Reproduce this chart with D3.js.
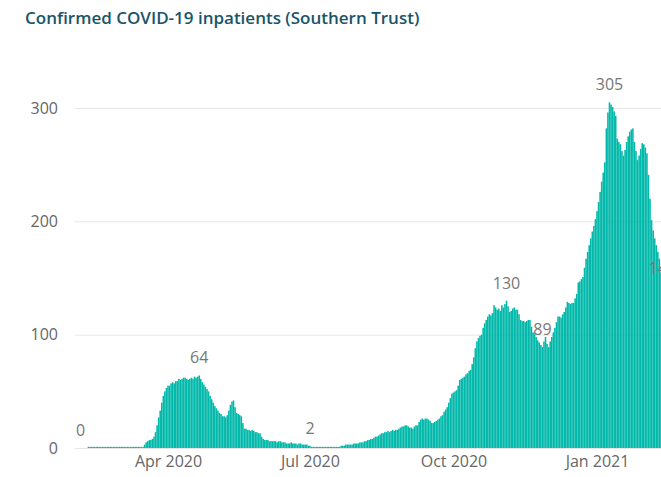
<!DOCTYPE html>
<html>
<head>
<meta charset="utf-8">
<script src="https://cdn.jsdelivr.net/npm/d3@7"></script>
<style>
  body { margin: 0; background: #fff; overflow: hidden; }
  text { font-family: "Open Sans", sans-serif; }
</style>
</head>
<body>
<script>
// daily inpatients, one array per month
let startDay = "2020-02-05";
let feb20 = [0,0,0,0,0,1,1,1,1,1,1,1,1,1,1,1,1,1,1,1,1,1,1,1,1];
let mar20 = [1,1,1,1,1,1,1,1,1,1,1,1,1,1,1,1,3,5,6,7,7,8,10,14,20,27,33,40,46,50,53];
let apr20 = [55,55,57,58,57,59,59,61,60,61,62,62,61,60,61,62,61,63,62,63,64,61,58,56,54,52,50,46,43,40];
let may20 = [37,35,33,31,30,28,28,27,29,33,38,41,42,36,31,30,29,28,22,17,17,16,16,15,16,15,14,14,13,13,10];
let jun20 = [8,7,7,7,6,6,6,6,6,5,6,6,5,5,5,4,4,4,5,4,4,4,3,4,4,3,3,3,3,2];
let jul20 = [2,1,1,1,1,1,1,1,1,1,1,1,1,1,1,1,1,1,1,1,2,2,2,3,3,3,3,3,4,4,4];
let aug20 = [4,5,5,5,6,6,7,7,8,8,9,10,10,11,12,13,13,14,14,15,14,15,16,15,16,16,17,18,19,19,20];
let sep20 = [20,19,18,18,17,19,20,20,23,25,26,25,26,26,25,24,22,22,23,24,25,26,28,29,32,34,36,40,44,48];
let oct20 = [49,50,51,55,60,61,62,63,65,66,68,69,74,80,88,94,97,99,100,106,110,113,116,118,117,119,126,124,122,123,121];
let nov20 = [126,124,127,130,125,120,121,123,124,122,122,118,113,112,112,111,112,113,113,107,102,101,98,95,93,91,89,94,98,92];
let dec20 = [89,94,98,102,106,111,116,116,115,118,120,124,129,128,127,128,128,132,136,146,147,149,151,159,167,173,179,185,191,196,202];
let jan21 = [209,217,226,235,243,252,282,296,305,303,301,297,293,273,270,268,262,258,263,270,275,279,281,282,270,262,254,258,264,269,268];
let feb21 = [265,260,241,220,201,192,185,179,173,167,155,143,140,138];

let labelDays = ["2020-02-05", "2020-04-21", "2020-07-01", "2020-11-04", "2020-11-27", "2021-01-09", "2021-02-12"];
let tickDays = ["2020-04-01", "2020-07-01", "2020-10-01", "2021-01-01"];
let yTicks = [0, 100, 200, 300];

let parse = d3.utcParse("%Y-%m-%d");
let values = [].concat(feb20, mar20, apr20, may20, jun20, jul20, aug20, sep20, oct20, nov20, dec20, jan21, feb21);
let day0 = parse(startDay);
let data = values.map((v, i) => ({ date: d3.utcDay.offset(day0, i), value: v }));

let width = 661, height = 477;
let left = 75;

let svg = d3.select("body").append("svg")
  .attr("width", width)
  .attr("height", height);

svg.append("text")
  .attr("x", 25).attr("y", 24)
  .attr("fill", "#1a5468")
  .attr("font-size", "17px")
  .attr("font-weight", 600)
  .text("Confirmed COVID-19 inpatients (Southern Trust)");

let x = d3.scaleUtc()
  .domain([parse("2020-04-01"), parse("2021-01-01")])
  .range([168, 597]);
let y = d3.scaleLinear()
  .domain([0, 300])
  .range([448, 108]);
let step = x(parse("2020-04-02")) - x(parse("2020-04-01"));

let yAxis = svg.append("g")
  .attr("transform", `translate(${left},0)`)
  .call(d3.axisLeft(y).tickValues(yTicks).tickSize(-(width - left)).tickPadding(17));
yAxis.select(".domain").remove();
yAxis.selectAll(".tick line").attr("stroke", "#e6e6e6");
yAxis.selectAll(".tick text")
  .attr("fill", "#666").attr("font-size", "16px")
  .attr("font-family", "Open Sans, sans-serif");

svg.append("g").selectAll("rect")
  .data(data)
  .join("rect")
    .attr("x", d => x(d.date) - step / 2)
    .attr("width", step)
    .attr("y", d => y(d.value))
    .attr("height", d => y(0) - y(d.value))
    .attr("fill", "#01b8aa");

let xAxis = svg.append("g")
  .attr("transform", `translate(0,448)`)
  .call(d3.axisBottom(x).tickValues(tickDays.map(parse)).tickFormat(d3.utcFormat("%b %Y")).tickSize(0).tickPadding(8));
xAxis.select(".domain").remove();
xAxis.selectAll(".tick text")
  .attr("fill", "#666").attr("font-size", "16px")
  .attr("font-family", "Open Sans, sans-serif");

let labelData = labelDays.map(s => data.find(d => +d.date === +parse(s)));
svg.append("g").selectAll("text")
  .data(labelData)
  .join("text")
    .attr("x", d => x(d.date))
    .attr("y", d => y(d.value) - 12)
    .attr("text-anchor", "middle")
    .attr("fill", "#777")
    .attr("font-size", "16px")
    .text(d => d.value);
</script>
</body>
</html>
